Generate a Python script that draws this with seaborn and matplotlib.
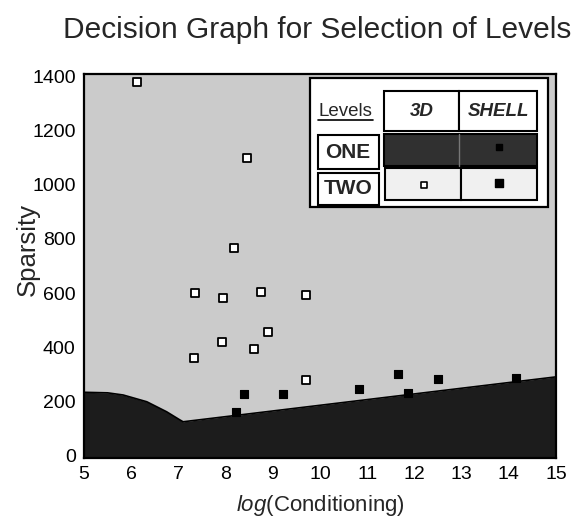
import numpy as np
import pandas as pd
import matplotlib
matplotlib.use("Agg")
import matplotlib.pyplot as plt
import seaborn as sns
from matplotlib.patches import Rectangle

# ---------------- data ----------------
cond_3d = [6.12, 8.46, 8.18, 7.35, 7.95, 8.76, 9.70, 8.90, 7.92, 8.60, 7.34, 9.70]
sparsity_3d = [1382, 1098, 765, 599, 581, 605, 593, 457, 420, 392, 359, 278]
cond_shell = [8.40, 8.22, 9.21, 10.83, 11.65, 11.87, 12.49, 14.15]
sparsity_shell = [226, 161, 226, 245, 300, 231, 281, 285]
boundary_cond = [5.0, 5.5, 5.83, 6.33, 6.75, 7.03, 7.1, 15.0]
boundary_sparsity = [233, 231, 223, 198, 161, 131, 124, 290]
x_ticks = list(range(5, 16))
y_ticks = list(range(0, 1401, 200))

df = pd.DataFrame({
    "cond": cond_3d + cond_shell,
    "sparsity": sparsity_3d + sparsity_shell,
    "kind": ["3D"] * len(cond_3d) + ["SHELL"] * len(cond_shell),
})
bnd = pd.DataFrame({"cond": boundary_cond, "sparsity": boundary_sparsity})

# ---------------- style ----------------
sns.set_style("white")
plt.rcParams["font.family"] = ["Liberation Sans", "DejaVu Sans"]
plt.rcParams["mathtext.fontset"] = "custom"
plt.rcParams["mathtext.rm"] = "Liberation Sans"
plt.rcParams["mathtext.it"] = "Liberation Sans:italic"

W, H = 574, 518
fig = plt.figure(figsize=(W / 100, H / 100), dpi=100)
ax = fig.add_axes([84 / W, 1 - 458 / H, 472 / W, 384 / H])

ymin, ymax = -10, 1410
ax.set_xlim(5, 15)
ax.set_ylim(ymin, ymax)

# regions
ax.fill_between(bnd["cond"], bnd["sparsity"], ymax, color="#cbcbcb", zorder=0, lw=0)
ax.fill_between(bnd["cond"], ymin, bnd["sparsity"], color="#1c1c1c", zorder=1, lw=0)
sns.lineplot(data=bnd, x="cond", y="sparsity", color="black", lw=1.2, ax=ax,
             sort=False, zorder=2, legend=False)

# points
sns.scatterplot(data=df[df.kind == "3D"], x="cond", y="sparsity", marker="s",
                color="white", edgecolor="black", linewidth=1.3, s=26, ax=ax,
                zorder=3, legend=False)
sns.scatterplot(data=df[df.kind == "SHELL"], x="cond", y="sparsity", marker="s",
                color="black", edgecolor="black", linewidth=0.8, s=32, ax=ax,
                zorder=3, legend=False)

ax.set_xticks(x_ticks)
ax.set_yticks(y_ticks)
ax.tick_params(axis="both", direction="in", length=3, width=1, labelsize=14,
               pad=6, colors="black")
for sp in ax.spines.values():
    sp.set_visible(True)
    sp.set_color("black")
    sp.set_linewidth(1.6)

ax.set_xlabel(r"$\mathit{log}$(Conditioning)", fontsize=16, labelpad=7)
ax.set_ylabel("Sparsity", fontsize=18.5)
ax.yaxis.set_label_coords(-44 / 472, (458 - 250) / 384)

fig.text(317 / W, 1 - 30 / H, "Decision Graph for Selection of Levels",
         fontsize=21.5, ha="center", va="center")

# ---------------- legend table (figure pixel coords) ----------------
lax = fig.add_axes([0, 0, 1, 1], zorder=10)
lax.set_xlim(0, W)
lax.set_ylim(H, 0)
lax.axis("off")

def box(x, y, w, h, fc="white", lw=1.5, ec="black"):
    lax.add_patch(Rectangle((x, y), w, h, facecolor=fc, edgecolor=ec, lw=lw))

box(310, 78, 238, 129, lw=1.6)
box(384, 91, 75, 40)
box(459, 91, 78, 40)
box(318, 135, 61, 34)
box(384, 134, 153, 32, fc="#303030")
lax.plot([459, 459], [134, 166], color="#777777", lw=1)
box(318, 173, 61, 32)
box(385, 168, 76, 32, fc="#f0f0f0")
box(461, 168, 76, 32, fc="#f0f0f0")

lax.text(345, 112, "Levels", fontsize=13.5, ha="center", va="center")
lax.plot([318, 373], [120, 120], color="black", lw=1.2)
lax.text(422, 112, "3D", fontsize=13.5, ha="center", va="center",
         fontweight="bold", fontstyle="italic")
lax.text(499, 112, "SHELL", fontsize=13.5, ha="center", va="center",
         fontweight="bold", fontstyle="italic")
lax.text(348, 152, "ONE", fontsize=15, ha="center", va="center", fontweight="bold")
lax.text(348, 189, "TWO", fontsize=15, ha="center", va="center", fontweight="bold")
lax.scatter([424], [185], marker="s", s=22, facecolor="white", edgecolor="black", lw=1.2)
lax.scatter([499], [183], marker="s", s=28, facecolor="black", edgecolor="black")
lax.scatter([499], [147], marker="s", s=20, facecolor="black", edgecolor="black")

fig.savefig("out.png", dpi=100)
